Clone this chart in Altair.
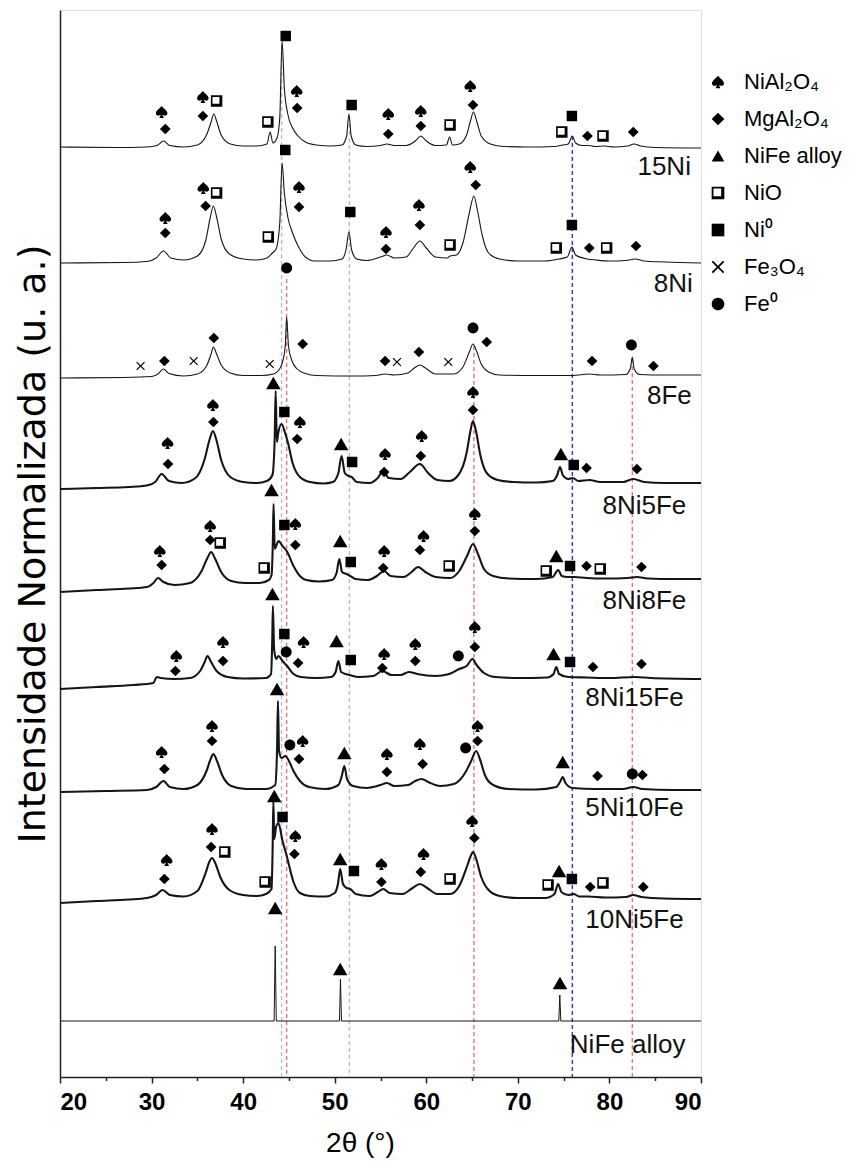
import altair as alt
import pandas as pd

# ---------------- data ----------------
TRACES = ["15Ni", "8Ni", "8Fe", "8Ni5Fe", "8Ni8Fe", "8Ni15Fe", "5Ni10Fe", "10Ni5Fe", "NiFe alloy"]
OFFSETS = [929, 814, 701, 590, 488, 398, 286, 178, 56]

p_15Ni = [(20, 1), (26, 0.5), (29.5, 1), (30.6, 2.5), (31.3, 7), (32.0, 2.5), (33.5, 1), (35.0, 3), (36.0, 13),
          (36.5, 26), (36.8, 34), (37.1, 27), (37.6, 13), (38.6, 4), (40.0, 2), (41.5, 2), (42.6, 4), (42.95, 16),
          (43.25, 5), (43.7, 10), (44.0, 30), (44.25, 107), (44.5, 60), (44.9, 33), (45.4, 20), (46.0, 12),
          (46.8, 6), (48.0, 3), (49.5, 2), (50.8, 3), (51.3, 12), (51.55, 34), (51.8, 12), (52.3, 3), (53.5, 1.5),
          (55.0, 2.5), (55.7, 4), (56.5, 2.5), (57.8, 2.5), (58.8, 7), (59.4, 12), (60.0, 7), (61.0, 2.5),
          (62.2, 3), (62.55, 11), (62.85, 3), (63.6, 4), (64.4, 13), (64.85, 28), (65.15, 36), (65.5, 27),
          (66.0, 12), (67.0, 4), (68.5, 1.5), (71, 1), (74, 1.5), (74.9, 3), (75.5, 4), (75.95, 12), (76.3, 5),
          (77, 2.5), (77.7, 2.5), (78.5, 1.5), (79.4, 2), (80.5, 1), (82.0, 2), (82.7, 4), (83.4, 2), (85, 0.5),
          (90, 0)]

p_8Ni = [(20, 0), (27, 0.5), (29.5, 1.5), (30.5, 5), (31.3, 12), (32.1, 5), (33.5, 3), (35.0, 7), (35.9, 22),
         (36.4, 45), (36.75, 57), (37.1, 46), (37.6, 24), (38.5, 9), (40.0, 4), (41.5, 3), (42.6, 5), (43.2, 10),
         (43.6, 14), (44.0, 40), (44.25, 100), (44.5, 70), (44.9, 45), (45.4, 30), (46.0, 17), (46.8, 6),
         (47.8, 2), (49.5, 2), (50.8, 4), (51.25, 14), (51.55, 31), (51.85, 13), (52.4, 4), (53.5, 2.5),
         (55.0, 6), (55.7, 8), (56.5, 5), (57.8, 6), (58.6, 15), (59.3, 22), (60.0, 15), (61.0, 6), (62.3, 5),
         (62.6, 7), (63.3, 8), (64.0, 20), (64.7, 50), (65.2, 67), (65.6, 52), (66.1, 28), (66.8, 10), (68, 4),
         (70, 2), (73, 2), (74.5, 4), (75.4, 6), (75.9, 16), (76.3, 8), (77.6, 4), (78.5, 3), (80, 2),
         (81.8, 2.5), (82.8, 4), (83.8, 2), (86, 1), (90, 0)]

p_8Fe = [(20, -2), (27, -1.5), (30.0, -0.5), (30.7, 2), (31.3, 7), (31.9, 2.5), (33.5, 0), (35.0, 2), (36.0, 10),
         (36.5, 22), (36.75, 29), (37.1, 22), (37.6, 11), (38.6, 3), (40, 0.5), (42, 0.5), (43.3, 2), (43.9, 6),
         (44.3, 14), (44.6, 30), (44.75, 59), (44.95, 30), (45.3, 16), (45.9, 7), (46.8, 2.5), (48, 0.5),
         (52, 0), (54.5, 0.5), (55.5, 2), (56.5, 1), (58.0, 3), (58.7, 8), (59.3, 11), (59.9, 8), (61, 2),
         (63, 2), (64.0, 9), (64.7, 24), (65.1, 32), (65.4, 27), (66.0, 12), (66.8, 4), (68, 1), (72, 0.5),
         (76, 0.5), (77.8, 2), (79, 1), (81.8, 1.5), (82.3, 8), (82.5, 19), (82.7, 7), (83.3, 1.5), (86, 1),
         (90, 1)]

p_8Ni5Fe = [(20, -2), (24, -1), (27.5, 0), (29.5, 1.5), (30.4, 5), (31.1, 13), (31.9, 6), (33.3, 4), (34.8, 9),
            (35.8, 28), (36.35, 48), (36.7, 56), (37.05, 48), (37.6, 27), (38.6, 10), (40.0, 5), (41.5, 4),
            (42.6, 6), (43.2, 12), (43.45, 50), (43.55, 96), (43.68, 45), (43.85, 55), (44.2, 63), (44.55, 55),
            (44.9, 44), (45.4, 24), (46.2, 10), (47.3, 5), (48.8, 3.5), (49.8, 5), (50.4, 14), (50.75, 31),
            (51.1, 14), (51.5, 11), (51.85, 10), (52.4, 5), (53.8, 4), (54.7, 9), (55.3, 16), (55.9, 9),
            (57.2, 8), (58.2, 15), (59.3, 23), (60.2, 14), (61.2, 7), (62.5, 6), (63.5, 12), (64.4, 34),
            (64.8, 55), (65.1, 66), (65.45, 55), (65.9, 32), (66.6, 14), (67.8, 7), (69.5, 5), (72, 4.5),
            (73.8, 6), (74.3, 12), (74.6, 20), (74.9, 12), (75.5, 8), (76.0, 9), (76.6, 6), (77.8, 7), (79, 5),
            (81.5, 5), (82.6, 8), (83.8, 5), (86, 4), (90, 4)]

p_8Ni8Fe = [(20, -3), (24, -1), (27.5, 0.5), (29.5, 2), (30.2, 6), (30.7, 11), (31.3, 7), (32.5, 4), (34.2, 6),
            (35.4, 17), (36.1, 31), (36.5, 37), (36.9, 31), (37.6, 17), (38.7, 8), (40.2, 6), (41.8, 6),
            (42.8, 9), (43.1, 14), (43.25, 50), (43.32, 85), (43.45, 40), (43.65, 44), (43.85, 48), (44.3, 43),
            (44.76, 38), (45.5, 23), (46.2, 13), (46.9, 9), (48.3, 7.5), (49.7, 9), (50.2, 16), (50.5, 30),
            (50.8, 17), (51.3, 15), (51.7, 13), (52.3, 10), (53.6, 9), (54.6, 13), (55.4, 18), (56.1, 13),
            (57.5, 12), (58.4, 17), (59.1, 22), (59.9, 17), (61.0, 12), (62.6, 11), (63.6, 18), (64.5, 34),
            (65.1, 45), (65.6, 36), (66.3, 20), (67.3, 13), (69, 10.5), (72, 10), (73.8, 12), (74.4, 19),
            (74.8, 13), (75.4, 12), (76.2, 12), (77.5, 11), (79.5, 10.5), (82.0, 11), (83.0, 12), (84.2, 10.5),
            (87, 10), (90, 10)]

p_8Ni15Fe = [(20, -10), (24, -8), (28, -6), (30.2, -4), (30.55, 2), (31.0, 1), (32.5, 0), (34.2, 1), (35.3, 8),
             (35.8, 17), (36.1, 23), (36.5, 17), (37.1, 8), (38.3, 2), (40, 0.5), (42.5, 1), (43.05, 5),
             (43.18, 40), (43.25, 73), (43.38, 30), (43.6, 20), (43.85, 23), (44.3, 18), (44.8, 13), (45.5, 5),
             (46.3, 2), (48.0, 1), (49.6, 2), (50.1, 7), (50.4, 18), (50.7, 7), (51.6, 4), (52.5, 2), (54.2, 3),
             (55.2, 8), (56.2, 4), (57.2, 4), (58.1, 7), (59.0, 5), (61.0, 3), (62.5, 5), (63.6, 10), (64.4, 13),
             (65.05, 20), (65.5, 14), (66.3, 6), (67.5, 2), (70, 1), (73.2, 1.5), (73.9, 5), (74.2, 12),
             (74.5, 5), (75.5, 2), (77.5, 1.5), (80, 1), (82.8, 2), (84.5, 1), (90, 0)]

p_5Ni10Fe = [(20, -1), (25, 0), (29.5, 1), (30.5, 4), (31.3, 10), (32.0, 4), (33.5, 2), (35.0, 6), (36.0, 20),
             (36.45, 32), (36.75, 37), (37.1, 31), (37.7, 16), (38.7, 5), (40.3, 2), (42.5, 2), (43.5, 6),
             (43.7, 40), (43.8, 90), (43.92, 40), (44.2, 33), (44.6, 35), (45.0, 30), (45.5, 20), (46.2, 10),
             (47.2, 4), (49.0, 2), (50.4, 6), (50.8, 16), (51.05, 25), (51.35, 12), (52.0, 5), (53.5, 3),
             (55.0, 6), (55.7, 8), (56.5, 5), (58.0, 6), (58.8, 10), (59.5, 12), (60.2, 9), (61.5, 5), (63.0, 7),
             (64.3, 19), (64.9, 30), (65.45, 40), (65.85, 32), (66.4, 16), (67.3, 6), (69, 2), (72, 1.5),
             (74.2, 4), (74.6, 9), (74.9, 14), (75.2, 8), (76, 3), (78.5, 2), (81.5, 2), (82.6, 4), (83.6, 2),
             (87, 1), (90, 1)]

p_10Ni5Fe = [(20, -4), (24, -2), (27.5, -0.5), (29.5, 1), (30.5, 4), (31.2, 9), (32.0, 4), (33.5, 2.5),
             (35.0, 8), (35.9, 26), (36.3, 37), (36.6, 41), (36.95, 36), (37.5, 22), (38.5, 9), (40.0, 4),
             (41.5, 3), (42.5, 5), (43.1, 10), (43.22, 50), (43.3, 98), (43.4, 60), (43.6, 72), (43.85, 76),
             (44.3, 58), (44.76, 43), (45.5, 17), (46.2, 6), (47.3, 3), (49.0, 2.5), (50.0, 6), (50.35, 15),
             (50.6, 30), (50.9, 15), (51.3, 11), (51.7, 10), (52.3, 5), (53.8, 3), (54.7, 7), (55.3, 10),
             (56.0, 6), (57.4, 5), (58.5, 11), (59.3, 15), (60.1, 11), (61.2, 5), (62.6, 5), (63.6, 13),
             (64.5, 34), (64.85, 43), (65.1, 47), (65.45, 40), (66.0, 22), (66.8, 9), (68, 3), (70, 1),
             (73.0, 1), (74.0, 5), (74.4, 15), (74.75, 7), (75.5, 4), (76.1, 5), (76.7, 2.5), (77.7, 2.5),
             (79.5, 1.5), (81.8, 2), (82.6, 4), (83.5, 2), (86, 0.5), (90, 0)]

p_NiFe = [(20, 0), (43.38, 0), (43.5, 75), (43.62, 0), (50.52, 0), (50.63, 42), (50.74, 0), (74.47, 0),
          (74.58, 26), (74.69, 0), (90, 0)]

TRACE_POINTS = [p_15Ni, p_8Ni, p_8Fe, p_8Ni5Fe, p_8Ni8Fe, p_8Ni15Fe, p_5Ni10Fe, p_10Ni5Fe, p_NiFe]

# phase markers: (2theta, intensity, code)
# S NiAl2O4, D MgAl2O4, T NiFe alloy, O NiO, N Ni0, X Fe3O4, F Fe0
m_15Ni = [(31.1, 965, "S"), (31.5, 948, "D"), (35.6, 980, "S"), (35.6, 961, "D"), (37.1, 976, "O"),
          (42.7, 955, "O"), (44.65, 1041, "N"), (45.85, 986, "S"), (45.9, 969, "D"), (51.85, 972, "N"),
          (55.85, 963, "S"), (55.85, 943, "D"), (59.4, 966, "S"), (59.4, 951, "D"), (62.6, 952, "O"),
          (64.8, 991, "S"), (65.1, 972, "D"), (74.8, 945, "O"), (75.9, 961, "N"), (77.6, 941, "D"),
          (79.3, 941, "O"), (82.6, 945, "D")]
m_8Ni = [(31.5, 859, "S"), (31.5, 844, "D"), (35.65, 889, "S"), (37.1, 884, "O"), (35.9, 871, "D"),
         (42.75, 840, "O"), (44.6, 927, "N"), (46.1, 890, "S"), (46.1, 870, "D"), (51.7, 865, "N"),
         (55.6, 845, "S"), (55.6, 828, "D"), (59.2, 872, "S"), (59.3, 852, "D"), (62.6, 832, "O"),
         (64.8, 910, "S"), (65.4, 892, "D"), (74.2, 829, "O"), (75.9, 852, "N"), (77.8, 829, "D"),
         (79.7, 829, "O"), (82.9, 831, "D")]
m_8Fe = [(28.8, 711, "X"), (31.4, 716, "D"), (34.6, 716, "X"), (36.8, 739, "D"), (42.9, 713, "X"),
         (44.75, 809, "F"), (46.5, 733, "D"), (55.5, 716, "D"), (56.8, 715, "X"), (59.2, 725, "D"),
         (62.4, 715, "X"), (65.1, 749, "F"), (66.6, 735, "D"), (78.1, 716, "D"), (82.4, 732, "F"),
         (84.8, 711, "D")]
m_8Ni5Fe = [(31.75, 634, "S"), (31.8, 613, "D"), (36.7, 672, "S"), (36.75, 655, "D"), (43.3, 694, "T"),
            (44.5, 665, "N"), (46.2, 655, "S"), (45.9, 638, "D"), (50.7, 633, "T"), (51.9, 615, "N"),
            (55.5, 623, "S"), (55.4, 605, "D"), (59.5, 641, "S"), (59.4, 621, "D"), (65.1, 685, "S"),
            (65.1, 667, "D"), (74.7, 623, "T"), (76.1, 612, "N"), (77.5, 609, "D"), (83.0, 608, "D")]
m_8Ni8Fe = [(30.9, 526, "S"), (31.1, 512, "D"), (36.4, 551, "S"), (36.4, 537, "D"), (37.5, 534, "O"),
            (42.3, 509, "O"), (43.1, 587, "T"), (44.5, 552, "N"), (45.7, 553, "S"), (45.7, 532, "D"),
            (50.6, 536, "T"), (51.75, 515, "N"), (55.4, 526, "S"), (55.3, 509, "D"), (59.7, 541, "S"),
            (59.3, 527, "D"), (62.5, 511, "O"), (65.3, 563, "S"), (65.3, 546, "D"), (73.1, 506, "O"),
            (74.2, 521, "T"), (75.7, 511, "N"), (77.5, 511, "D"), (79.0, 508, "O"), (83.5, 510, "D")]
m_8Ni15Fe = [(32.7, 421, "S"), (32.6, 406, "D"), (37.8, 435, "S"), (37.8, 416, "D"), (43.2, 483, "T"),
             (44.5, 443, "N"), (44.7, 425, "F"), (46.6, 435, "S"), (46.0, 414, "D"), (50.2, 436, "T"),
             (51.75, 417, "N"), (55.4, 423, "S"), (55.2, 409, "D"), (58.8, 433, "S"), (58.8, 416, "D"),
             (63.5, 421, "F"), (65.3, 450, "S"), (65.3, 430, "D"), (73.9, 423, "T"), (75.7, 415, "N"),
             (78.2, 410, "D"), (83.5, 413, "D")]
m_5Ni10Fe = [(31.1, 325, "S"), (31.4, 308, "D"), (36.6, 351, "S"), (36.6, 336, "D"), (43.7, 388, "T"),
             (45.1, 332, "F"), (46.5, 336, "S"), (46.1, 318, "D"), (51.05, 324, "T"), (55.7, 323, "S"),
             (55.7, 305, "D"), (59.3, 333, "S"), (59.6, 313, "D"), (64.3, 329, "F"), (65.6, 351, "S"),
             (65.6, 336, "D"), (74.9, 315, "T"), (78.7, 301, "D"), (82.5, 303, "F"), (83.6, 302, "D")]
m_10Ni5Fe = [(31.65, 217, "S"), (31.4, 198, "D"), (36.6, 248, "S"), (36.5, 230, "D"), (38.0, 225, "O"),
             (42.4, 195, "O"), (43.4, 281, "T"), (44.3, 260, "N"), (45.7, 241, "S"), (45.6, 223, "D"),
             (50.6, 218, "T"), (52.1, 206, "N"), (55.1, 213, "S"), (55.1, 195, "D"), (59.7, 223, "S"),
             (59.4, 205, "D"), (62.6, 198, "O"), (65.0, 256, "S"), (65.25, 239, "D"), (73.3, 192, "O"),
             (74.5, 206, "T"), (75.9, 198, "N"), (77.9, 190, "D"), (79.3, 194, "O"), (83.7, 190, "D")]
m_NiFe = [(43.5, 169, "T"), (50.6, 108, "T"), (74.6, 94, "T")]
MARKERS = [m_15Ni, m_8Ni, m_8Fe, m_8Ni5Fe, m_8Ni8Fe, m_8Ni15Fe, m_5Ni10Fe, m_10Ni5Fe, m_NiFe]

PHASE_CODES = ["S", "D", "T", "O", "N", "X", "F"]
PHASES = ["NiAl\u2082O\u2084", "MgAl\u2082O\u2084", "NiFe alloy", "NiO", "Ni\u2070", "Fe\u2083O\u2084", "Fe\u2070"]

# sample labels (2theta of right edge, intensity)
LABEL_X = [88.9, 89.1, 89.0, 88.4, 88.4, 88.1, 88.1, 88.1, 88.3]
LABEL_Y = [910, 793, 681, 571, 476, 379, 269, 157, 32]

# reference lines: Ni0 / Fe0 reflections (2theta, top intensity, set)
RULE_X = [44.2, 51.6, 75.95, 44.75, 65.2, 82.5]
RULE_TOP = [1033, 960, 941, 798, 731, 718]
RULE_SET = ["Ni-a", "Ni-a", "Ni-b", "Fe", "Fe", "Fe"]

# ---------------- styling ----------------
FONT = "Liberation Sans, Arial, sans-serif"
NARROW = "Liberation Sans Narrow, Arial Narrow, Liberation Sans, sans-serif"
RULE_COLORS = {"Ni-a": "#b3b5f2", "Ni-b": "#2233ee", "Fe": "#f27272"}
LINE_W = {"15Ni": 1.1, "8Ni": 1.1, "8Fe": 1.1, "NiFe alloy": 1.0}
SHAPES = [
    "M0,-1 C0.35,-0.55 0.95,-0.25 0.95,0.22 C0.95,0.6 0.45,0.75 0.12,0.42 L0.38,1 L-0.38,1 L-0.12,0.42 "
    "C-0.45,0.75 -0.95,0.6 -0.95,0.22 C-0.95,-0.25 -0.35,-0.55 0,-1 Z",
    "M0,-1 L1,0 L0,1 L-1,0 Z",
    "M0,-0.85 L1,0.85 L-1,0.85 Z",
    "M-1,-1 L1,-1 L1,1 L-1,1 Z M-0.72,-0.72 L-0.72,0.5 L0.5,0.5 L0.5,-0.72 Z",
    "M-1,-1 L1,-1 L1,1 L-1,1 Z",
    "M-1,-0.8 L-0.8,-1 L0,-0.2 L0.8,-1 L1,-0.8 L0.2,0 L1,0.8 L0.8,1 L0,0.2 L-0.8,1 L-1,0.8 L-0.2,0 Z",
    "M1,0 C1,0.55 0.55,1 0,1 C-0.55,1 -1,0.55 -1,0 C-1,-0.55 -0.55,-1 0,-1 C0.55,-1 1,-0.55 1,0 Z",
]
SIZES = {"S": 150, "D": 115, "T": 210, "O": 130, "N": 110, "X": 75, "F": 120}

# ---------------- tables ----------------
rows = []
for name, off, pts in zip(TRACES, OFFSETS, TRACE_POINTS):
    for x, h in pts:
        rows.append({"trace": name, "x": x, "y": off + h, "w": LINE_W.get(name, 2.1)})
lines_df = pd.DataFrame(rows)

mrows = []
for lst in MARKERS:
    for x, y, c in lst:
        mrows.append({"x": x, "y": y, "phase": PHASES[PHASE_CODES.index(c)], "sz": SIZES[c]})
mark_df = pd.DataFrame(mrows)

lab_df = pd.DataFrame({"x": LABEL_X, "y": LABEL_Y, "label": TRACES})
rule_df = pd.DataFrame({"x": RULE_X, "top": RULE_TOP, "set": RULE_SET})
rule_df["col"] = rule_df["set"].map(RULE_COLORS)
rule_df["bottom"] = 0

xscale = alt.Scale(domain=[20, 90], nice=False, zero=False)
yscale = alt.Scale(domain=[0, 1067], nice=False, zero=False)

x_axis = alt.Axis(
    values=list(range(20, 91, 5)),
    labelExpr="datum.value % 10 === 0 ? datum.label : ''",
    tickSize={"condition": {"test": "datum.value % 10 === 0", "value": 6}, "value": 3.5},
    tickWidth=1.5, tickColor="#222", domainColor="#222", domainWidth=1.5,
    labelFont=NARROW, labelFontSize=24, labelFontWeight="bold", labelColor="black", labelPadding=7,
    title="2\u03b8 (\u00b0)", titleFont=NARROW, titleFontSize=28, titleFontWeight="normal",
    titleColor="black", titlePadding=15, titleX=300, grid=False,
)
y_axis = alt.Axis(
    labels=False, ticks=False, grid=False, domainColor="#222", domainWidth=1.5,
    title="Intensidade Normalizada (u. a.)", titleFont="DejaVu Sans, sans-serif", titleFontSize=38,
    titleFontWeight="normal", titleColor="black", titlePadding=8,
)

rules = alt.Chart(rule_df).mark_rule(strokeDash=[4, 3], strokeWidth=1.4).encode(
    x=alt.X("x:Q", scale=xscale, axis=x_axis),
    y=alt.Y("top:Q", scale=yscale, axis=y_axis),
    y2="bottom:Q",
    color=alt.Color("col:N", scale=None),
)

main_lines = alt.Chart(lines_df[lines_df.trace != "NiFe alloy"]).mark_line(
    interpolate="monotone", color="#151515").encode(
    x=alt.X("x:Q", scale=xscale),
    y=alt.Y("y:Q", scale=yscale),
    detail="trace:N",
    strokeWidth=alt.StrokeWidth("w:Q", scale=None),
)
ref_line = alt.Chart(lines_df[lines_df.trace == "NiFe alloy"]).mark_line(
    color="#151515", strokeWidth=1.0).encode(
    x=alt.X("x:Q", scale=xscale),
    y=alt.Y("y:Q", scale=yscale),
)

markers = alt.Chart(mark_df).mark_point(filled=True, color="black", opacity=1).encode(
    x=alt.X("x:Q", scale=xscale),
    y=alt.Y("y:Q", scale=yscale),
    size=alt.Size("sz:Q", scale=None),
    shape=alt.Shape("phase:N", scale=alt.Scale(domain=PHASES, range=SHAPES),
                    legend=alt.Legend(title=None, orient="none", legendX=647, legendY=61, padding=0,
                                      labelFont=FONT, labelFontSize=22, labelColor="black",
                                      symbolSize=160, symbolFillColor="black", symbolStrokeWidth=0,
                                      symbolOpacity=1, rowPadding=15, labelOffset=15, labelLimit=300)),
)

labels = alt.Chart(lab_df).mark_text(align="right", baseline="middle", font=FONT, fontSize=26,
                                     color="#111").encode(
    x=alt.X("x:Q", scale=xscale),
    y=alt.Y("y:Q", scale=yscale),
    text="label:N",
)

chart = alt.layer(rules, main_lines, ref_line, markers, labels).properties(
    width=641, height=1067,
    autosize=alt.AutoSizeParams(type="none"),
    padding={"left": 52, "top": 2, "right": 152, "bottom": 87},
).configure_view(stroke="#222", strokeWidth=1.5).configure(background="white")

chart.save("out.html", embed_options={"renderer": "svg", "actions": False})
